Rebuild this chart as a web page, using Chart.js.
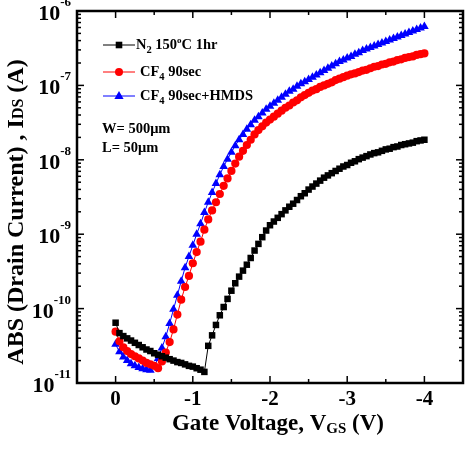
<!DOCTYPE html>
<html>
<head>
<meta charset="utf-8">
<script src="https://cdn.jsdelivr.net/npm/chart.js@4.4.1/dist/chart.umd.min.js"></script>
<style>
  html, body { margin: 0; padding: 0; background: #fff; }
  canvas { display: block; }
</style>
</head>
<body>
<canvas id="idsChart" width="473" height="458"></canvas>
<script>
// Gate voltage (V), 0.05 V steps
const voltage = [
  0, -0.05, -0.1, -0.15, -0.2, -0.25, -0.3, -0.35, -0.4, -0.45,
  -0.5, -0.55, -0.6, -0.65, -0.7, -0.75, -0.8, -0.85, -0.9, -0.95,
  -1, -1.05, -1.1, -1.15, -1.2, -1.25, -1.3, -1.35, -1.4, -1.45,
  -1.5, -1.55, -1.6, -1.65, -1.7, -1.75, -1.8, -1.85, -1.9, -1.95,
  -2, -2.05, -2.1, -2.15, -2.2, -2.25, -2.3, -2.35, -2.4, -2.45,
  -2.5, -2.55, -2.6, -2.65, -2.7, -2.75, -2.8, -2.85, -2.9, -2.95,
  -3, -3.05, -3.1, -3.15, -3.2, -3.25, -3.3, -3.35, -3.4, -3.45,
  -3.5, -3.55, -3.6, -3.65, -3.7, -3.75, -3.8, -3.85, -3.9, -3.95,
  -4
];

// |Ids| (A) for each treatment
const idsN2 = [
  6.46e-11, 4.68e-11, 4.27e-11, 3.98e-11, 3.72e-11, 3.47e-11, 3.24e-11, 3.02e-11, 2.82e-11, 2.69e-11,
  2.51e-11, 2.40e-11, 2.29e-11, 2.19e-11, 2.09e-11, 2.00e-11, 1.91e-11, 1.86e-11, 1.78e-11, 1.70e-11,
  1.66e-11, 1.58e-11, 1.51e-11, 1.41e-11, 3.16e-11, 4.37e-11, 6.03e-11, 8.13e-11, 1.05e-10, 1.35e-10,
  1.74e-10, 2.19e-10, 2.69e-10, 3.24e-10, 3.89e-10, 4.79e-10, 6.03e-10, 7.41e-10, 9.12e-10, 1.12e-9,
  1.32e-9, 1.48e-9, 1.66e-9, 1.86e-9, 2.09e-9, 2.34e-9, 2.57e-9, 2.88e-9, 3.24e-9, 3.55e-9,
  3.98e-9, 4.37e-9, 4.79e-9, 5.25e-9, 5.75e-9, 6.17e-9, 6.61e-9, 7.08e-9, 7.59e-9, 8.13e-9,
  8.51e-9, 9.12e-9, 9.55e-9, 1.02e-8, 1.07e-8, 1.12e-8, 1.18e-8, 1.23e-8, 1.26e-8, 1.32e-8,
  1.38e-8, 1.41e-8, 1.48e-8, 1.51e-8, 1.58e-8, 1.62e-8, 1.66e-8, 1.70e-8, 1.78e-8, 1.82e-8,
  1.86e-8
];
const idsCF4 = [
  4.90e-11, 3.63e-11, 3.02e-11, 2.69e-11, 2.45e-11, 2.29e-11, 2.14e-11, 2.00e-11, 1.86e-11, 1.78e-11,
  1.70e-11, 1.58e-11, 1.95e-11, 2.57e-11, 3.55e-11, 5.25e-11, 8.32e-11, 1.32e-10, 1.95e-10, 2.75e-10,
  4.07e-10, 5.75e-10, 7.94e-10, 1.15e-9, 1.58e-9, 2.09e-9, 2.69e-9, 3.47e-9, 4.47e-9, 5.62e-9,
  7.08e-9, 8.91e-9, 1.10e-8, 1.32e-8, 1.58e-8, 1.86e-8, 2.19e-8, 2.51e-8, 2.82e-8, 3.16e-8,
  3.47e-8, 3.80e-8, 4.17e-8, 4.57e-8, 5.01e-8, 5.37e-8, 5.89e-8, 6.31e-8, 6.92e-8, 7.41e-8,
  7.94e-8, 8.51e-8, 8.91e-8, 9.55e-8, 1.00e-7, 1.05e-7, 1.10e-7, 1.18e-7, 1.23e-7, 1.29e-7,
  1.35e-7, 1.41e-7, 1.45e-7, 1.51e-7, 1.58e-7, 1.62e-7, 1.70e-7, 1.78e-7, 1.82e-7, 1.91e-7,
  1.95e-7, 2.04e-7, 2.09e-7, 2.19e-7, 2.24e-7, 2.34e-7, 2.40e-7, 2.45e-7, 2.57e-7, 2.63e-7,
  2.69e-7
];
const idsCF4HMDS = [
  3.31e-11, 2.63e-11, 2.24e-11, 2.00e-11, 1.82e-11, 1.70e-11, 1.62e-11, 1.55e-11, 1.51e-11, 1.48e-11,
  1.66e-11, 2.14e-11, 2.95e-11, 4.17e-11, 6.31e-11, 9.77e-11, 1.51e-10, 2.34e-10, 3.55e-10, 5.01e-10,
  7.08e-10, 1.00e-9, 1.38e-9, 1.95e-9, 2.69e-9, 3.63e-9, 4.79e-9, 6.31e-9, 8.13e-9, 1.02e-8,
  1.26e-8, 1.55e-8, 1.86e-8, 2.19e-8, 2.57e-8, 2.95e-8, 3.39e-8, 3.80e-8, 4.27e-8, 4.79e-8,
  5.25e-8, 5.75e-8, 6.31e-8, 6.92e-8, 7.59e-8, 8.32e-8, 8.91e-8, 9.77e-8, 1.05e-7, 1.12e-7,
  1.20e-7, 1.29e-7, 1.38e-7, 1.48e-7, 1.58e-7, 1.70e-7, 1.82e-7, 1.95e-7, 2.09e-7, 2.19e-7,
  2.34e-7, 2.45e-7, 2.63e-7, 2.75e-7, 2.95e-7, 3.09e-7, 3.24e-7, 3.39e-7, 3.55e-7, 3.72e-7,
  3.89e-7, 4.07e-7, 4.27e-7, 4.47e-7, 4.68e-7, 4.90e-7, 5.13e-7, 5.37e-7, 5.62e-7, 5.89e-7,
  6.17e-7
];

const xTickValues = [0, -1, -2, -3, -4];
const xTickLabels = ['0', '-1', '-2', '-3', '-4'];
const xMinorValues = [-0.5, -1.5, -2.5, -3.5];
const yTickExponents = [-11, -10, -9, -8, -7, -6];

const FONT = '"Liberation Serif", "Times New Roman", serif';
const font = size => `bold ${size}px ${FONT}`;

// draws text pieces side by side, each with own size and baseline shift (for sub/superscripts)
function richText(ctx, pieces, x, y, align) {
  let width = 0;
  pieces.forEach(p => { ctx.font = font(p.size); width += ctx.measureText(p.text).width; });
  let cx = align === 'center' ? x - width / 2 : align === 'right' ? x - width : x;
  ctx.textAlign = 'left';
  ctx.textBaseline = 'alphabetic';
  pieces.forEach(p => {
    ctx.font = font(p.size);
    ctx.fillText(p.text, cx, y + (p.dy || 0));
    cx += ctx.measureText(p.text).width;
  });
}

function marker(ctx, style, x, y, color) {
  ctx.fillStyle = color;
  ctx.beginPath();
  if (style === 'rect') ctx.rect(x - 3.3, y - 3.3, 6.6, 6.6);
  else if (style === 'circle') ctx.arc(x, y, 4, 0, Math.PI * 2);
  else { ctx.moveTo(x, y - 5); ctx.lineTo(x + 4.6, y + 3); ctx.lineTo(x - 4.6, y + 3); ctx.closePath(); }
  ctx.fill();
}

const decorPlugin = {
  id: 'decor',
  afterDraw(chart) {
    const { ctx, chartArea: a, scales: { x, y } } = chart;
    ctx.save();
    ctx.strokeStyle = '#000';
    ctx.fillStyle = '#000';
    const line = (x1, y1, x2, y2) => { ctx.beginPath(); ctx.moveTo(x1, y1); ctx.lineTo(x2, y2); ctx.stroke(); };

    // inward ticks on all four sides
    ctx.lineWidth = 1.5;
    xTickValues.forEach(v => {
      const px = x.getPixelForValue(v);
      line(px, a.bottom, px, a.bottom - 7);
      line(px, a.top, px, a.top + 7);
    });
    xMinorValues.forEach(v => {
      const px = x.getPixelForValue(v);
      line(px, a.bottom, px, a.bottom - 4);
      line(px, a.top, px, a.top + 4);
    });
    yTickExponents.forEach(e => {
      const py = y.getPixelForValue(Math.pow(10, e));
      line(a.left, py, a.left + 7, py);
      line(a.right, py, a.right - 7, py);
      if (e < -6) {
        for (let k = 2; k <= 9; k++) {
          const pm = y.getPixelForValue(k * Math.pow(10, e));
          line(a.left, pm, a.left + 4, pm);
          line(a.right, pm, a.right - 4, pm);
        }
      }
    });
    ctx.lineWidth = 2.5;
    ctx.strokeRect(a.left, a.top, a.right - a.left, a.bottom - a.top);

    // tick labels
    ctx.font = font(21);
    ctx.textAlign = 'center';
    ctx.textBaseline = 'alphabetic';
    xTickValues.forEach((v, i) => ctx.fillText(xTickLabels[i], x.getPixelForValue(v), a.bottom + 22));
    yTickExponents.forEach(e => {
      const py = y.getPixelForValue(Math.pow(10, e));
      richText(ctx, [{ text: '10', size: 22 }, { text: String(e), size: 13, dy: -14 }], 71, py + 9, 'right');
    });

    // axis titles
    richText(ctx, [{ text: 'Gate Voltage, V', size: 23 }, { text: 'GS', size: 15, dy: 3 }, { text: ' (V)', size: 23 }],
      278, 430, 'center');
    ctx.save();
    ctx.translate(23, 212);
    ctx.rotate(-Math.PI / 2);
    richText(ctx, [{ text: 'ABS (Drain Current) , I', size: 24 }, { text: 'DS', size: 16 }, { text: ' (A)', size: 24 }],
      0, 0, 'center');
    ctx.restore();

    // legend
    const rows = [
      { y: 45, color: '#000000', style: 'rect', tx: 136,
        text: [{ text: 'N', size: 14.5 }, { text: '2', size: 10.5, dy: 4 }, { text: ' 150', size: 14.5 },
               { text: 'o', size: 9, dy: -6 }, { text: 'C 1hr', size: 14.5 }] },
      { y: 72, color: '#ff0000', style: 'circle', tx: 140,
        text: [{ text: 'CF', size: 14.5 }, { text: '4', size: 10.5, dy: 4 }, { text: ' 90sec', size: 14.5 }] },
      { y: 96, color: '#0000ff', style: 'triangle', tx: 140,
        text: [{ text: 'CF', size: 14.5 }, { text: '4', size: 10.5, dy: 4 }, { text: ' 90sec+HMDS', size: 14.5 }] }
    ];
    rows.forEach(r => {
      ctx.strokeStyle = r.color;
      ctx.lineWidth = 1;
      line(103, r.y, 135, r.y);
      marker(ctx, r.style, 119, r.y, r.color);
      ctx.fillStyle = '#000';
      richText(ctx, r.text, r.tx, r.y + 4, 'left');
    });
    ctx.fillStyle = '#000';
    richText(ctx, [{ text: 'W= 500μm', size: 14.5 }], 102, 133, 'left');
    richText(ctx, [{ text: 'L= 50μm', size: 14.5 }], 102, 152, 'left');
    ctx.restore();
  }
};

const toPoints = values => voltage.map((v, i) => ({ x: v, y: values[i] }));

new Chart(document.getElementById('idsChart'), {
  type: 'scatter',
  data: {
    datasets: [
      {
        label: 'N2 150°C 1hr',
        data: toPoints(idsN2),
        showLine: true,
        borderColor: '#000000',
        backgroundColor: '#000000',
        borderWidth: 1,
        pointStyle: 'rect',
        pointRadius: 4.6,
        pointBorderWidth: 0
      },
      {
        label: 'CF4 90sec',
        data: toPoints(idsCF4),
        showLine: true,
        borderColor: '#ff0000',
        backgroundColor: '#ff0000',
        borderWidth: 1,
        pointStyle: 'circle',
        pointRadius: 4.1,
        pointBorderWidth: 0
      },
      {
        label: 'CF4 90sec+HMDS',
        data: toPoints(idsCF4HMDS),
        showLine: true,
        borderColor: '#0000ff',
        backgroundColor: '#0000ff',
        borderWidth: 1,
        pointStyle: 'triangle',
        pointRadius: 5,
        pointBorderWidth: 0
      }
    ]
  },
  options: {
    responsive: false,
    animation: false,
    devicePixelRatio: 1,
    layout: { padding: { left: 77, right: 10, top: 11, bottom: 75 } },
    plugins: { legend: { display: false }, tooltip: { enabled: false } },
    scales: {
      x: { type: 'linear', min: -4.5, max: 0.5, reverse: true, display: false },
      y: { type: 'logarithmic', min: 1e-11, max: 1e-6, display: false }
    }
  },
  plugins: [decorPlugin]
});
</script>
</body>
</html>
